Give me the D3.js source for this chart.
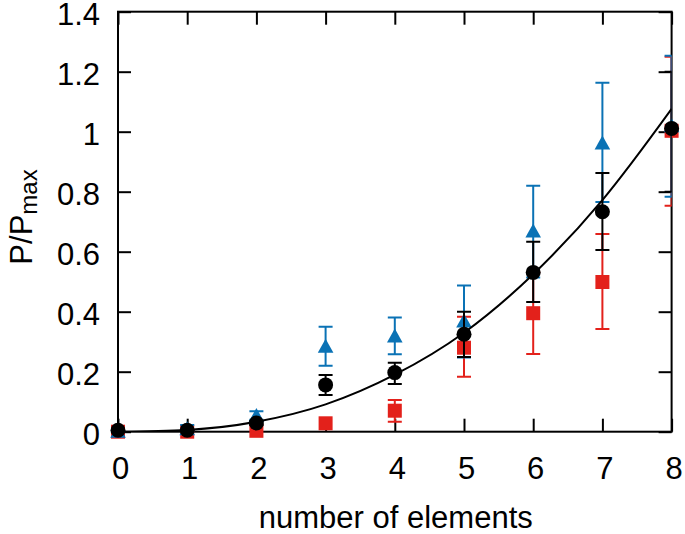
<!DOCTYPE html>
<html>
<head>
<meta charset="utf-8">
<script src="https://cdn.jsdelivr.net/npm/d3@7"></script>
<style>
  html, body { margin: 0; padding: 0; background: #fff; }
  svg { display: block; }
  text { font-family: "Liberation Sans", Arial, sans-serif; fill: #000; }
</style>
</head>
<body>
<div id="chart"></div>
<script>
// ---- data ----
const xValues = [0, 1, 2, 3, 4, 5, 6, 7, 8];

const redValues = [0.0, 0.0, 0.003, 0.028, 0.070, 0.280, 0.395, 0.499, 1.003];
const redLow    = [null, null, null, null, 0.033, 0.183, 0.259, 0.342, 0.753];
const redHigh   = [null, null, null, null, 0.106, 0.383, 0.531, 0.659, 1.250];

const blueValues = [0.0, 0.008, 0.052, 0.283, 0.317, 0.367, 0.667, 0.961, 1.018];
const blueLow    = [null, 0.0, 0.040, 0.220, 0.258, 0.247, 0.514, 0.766, 0.783];
const blueHigh   = [null, 0.022, 0.068, 0.350, 0.381, 0.487, 0.820, 1.163, 1.253];

const blackValues = [0.005, 0.005, 0.029, 0.156, 0.197, 0.325, 0.531, 0.733, 1.011];
const blackLow    = [null, null, 0.022, 0.122, 0.159, 0.249, 0.432, 0.606, 0.800];
const blackHigh   = [null, null, 0.036, 0.189, 0.230, 0.400, 0.633, 0.862, 1.200];

// fitted curve at each x
const fitX = [0, 1, 2, 3, 4, 5, 6, 7, 8];
const fitY = [0.0, 0.006, 0.033, 0.091, 0.190, 0.330, 0.525, 0.772, 1.076];

const xTicks = [0, 1, 2, 3, 4, 5, 6, 7, 8];
const yTicks = [0, 0.2, 0.4, 0.6, 0.8, 1.0, 1.2, 1.4];
const xTitle = "number of elements";

// ---- layout ----
const W = 685, H = 534;
const pL = 118, pR = 671.6, pT = 11.7, pB = 431.7;
const FS = 31;

const svg = d3.select("#chart").append("svg")
  .attr("width", W).attr("height", H);
svg.append("rect").attr("width", W).attr("height", H).attr("fill", "#fff");

const x = d3.scaleLinear().domain([0, 8]).range([pL, pR]);
const y = d3.scaleLinear().domain([0, 1.4]).range([pB, pT]);

const RED = "#e3211b", BLUE = "#0a72b5", BLACK = "#000";

svg.append("defs").append("clipPath").attr("id", "plotclip")
  .append("rect").attr("x", pL).attr("y", pT)
  .attr("width", pR - pL).attr("height", pB - pT);

// ---- axes (ticks inward on all four sides) ----
const TL = 13;
const fmtY = d => d === 0 ? "0" : (d === 1 ? "1" : d3.format(".1f")(d));

const axB = svg.append("g").attr("transform", `translate(0,${pB})`)
  .call(d3.axisBottom(x).tickValues(xTicks).tickSizeInner(-TL).tickSizeOuter(0).tickPadding(0).tickFormat(d3.format("d")));
const axT = svg.append("g").attr("transform", `translate(0,${pT})`)
  .call(d3.axisTop(x).tickValues(xTicks).tickSizeInner(-TL).tickSizeOuter(0).tickFormat(""));
const axL = svg.append("g").attr("transform", `translate(${pL},0)`)
  .call(d3.axisLeft(y).tickValues(yTicks).tickSizeInner(-TL).tickSizeOuter(0).tickPadding(0).tickFormat(fmtY));
const axR = svg.append("g").attr("transform", `translate(${pR},0)`)
  .call(d3.axisRight(y).tickValues(yTicks).tickSizeInner(-TL).tickSizeOuter(0).tickFormat(""));

[axB, axT, axL, axR].forEach(g => {
  g.select(".domain").remove();
  g.selectAll(".tick line").attr("stroke", "#000").attr("stroke-width", 2);
});
axB.selectAll(".tick text")
  .attr("font-size", FS).attr("font-family", "Liberation Sans, Arial, sans-serif")
  .attr("fill", "#000").attr("y", 47.5).attr("dy", 0).attr("dx", 2);
axL.selectAll(".tick text")
  .attr("font-size", FS).attr("font-family", "Liberation Sans, Arial, sans-serif")
  .attr("fill", "#000").attr("x", -18).attr("dy", "0.40em");

// frame
svg.append("rect").attr("x", pL).attr("y", pT)
  .attr("width", pR - pL).attr("height", pB - pT)
  .attr("fill", "none").attr("stroke", "#000").attr("stroke-width", 2);

// ---- series ----
function drawSeries(vals, lows, highs, color, shape) {
  const g = svg.append("g");
  const eg = g.append("g").attr("clip-path", "url(#plotclip)");
  const capW = 7;
  xValues.forEach((xv, i) => {
    if (lows[i] === null || highs[i] === null) return;
    const cx = x(xv);
    eg.append("line").attr("x1", cx).attr("x2", cx)
      .attr("y1", y(lows[i])).attr("y2", y(highs[i]))
      .attr("stroke", color).attr("stroke-width", 2);
    [lows[i], highs[i]].forEach(v => {
      eg.append("line").attr("x1", cx - capW).attr("x2", cx + capW)
        .attr("y1", y(v)).attr("y2", y(v))
        .attr("stroke", color).attr("stroke-width", 2);
    });
  });
  xValues.forEach((xv, i) => {
    const cx = x(xv), cy = y(vals[i]);
    if (shape === "square") {
      g.append("rect").attr("x", cx - 7).attr("y", cy - 7)
        .attr("width", 14).attr("height", 14).attr("fill", color);
    } else if (shape === "triangle") {
      g.append("path")
        .attr("d", `M${cx},${cy - 8} L${cx + 7.8},${cy + 6} L${cx - 7.8},${cy + 6} Z`)
        .attr("fill", color);
    } else {
      g.append("circle").attr("cx", cx).attr("cy", cy).attr("r", 7.5).attr("fill", color);
    }
  });
}

drawSeries(redValues, redLow, redHigh, RED, "square");
drawSeries(blueValues, blueLow, blueHigh, BLUE, "triangle");
drawSeries(blackValues, blackLow, blackHigh, BLACK, "circle");

// fit curve
const fitPts = fitX.map((v, i) => [v, fitY[i]]);
svg.append("path")
  .attr("clip-path", "url(#plotclip)")
  .attr("d", d3.line().x(d => x(d[0])).y(d => y(d[1])).curve(d3.curveMonotoneX)(fitPts))
  .attr("fill", "none").attr("stroke", "#000").attr("stroke-width", 2);

// ---- titles ----
svg.append("text").attr("x", (pL + pR) / 2 + 1).attr("y", 528)
  .attr("text-anchor", "middle").attr("font-size", FS).text(xTitle);

const yt = svg.append("text")
  .attr("transform", "translate(32,217) rotate(-90)")
  .attr("text-anchor", "middle").attr("font-size", FS);
yt.append("tspan").text("P/P");
yt.append("tspan").attr("font-size", 24).attr("dy", 5).text("max");
</script>
</body>
</html>
